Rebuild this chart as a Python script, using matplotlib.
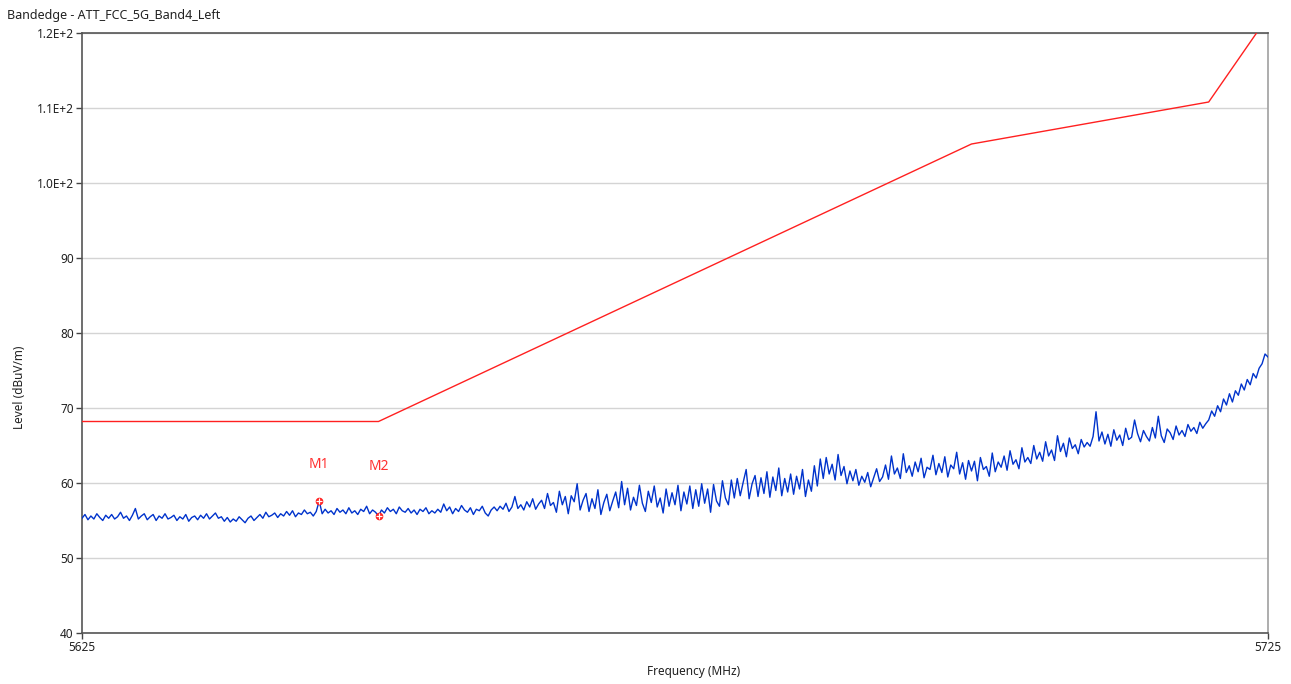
import numpy as np
import matplotlib
matplotlib.use("Agg")
import matplotlib.pyplot as plt
from matplotlib.ticker import FixedLocator, FixedFormatter

# ---------------- data ----------------
title_text = "Bandedge - ATT_FCC_5G_Band4_Left"
x_label = "Frequency (MHz)"
y_label = "Level (dBuV/m)"

f_start = 5625.0
f_step = 0.25

trace_level = [
    55.3, 55.8, 55.1, 55.6, 55.2, 55.9, 55.4, 55.0, 55.7, 55.3,
    55.8, 55.2, 55.5, 56.1, 55.3, 55.6, 55.0, 55.7, 56.6, 55.2,
    55.6, 55.9, 55.1, 55.5, 55.8, 55.0, 55.6, 55.3, 55.9, 55.2,
    55.4, 55.7, 55.0, 55.5, 55.2, 55.8, 54.9, 55.4, 55.6, 55.1,
    55.7, 55.3, 55.9, 55.2, 55.6, 56.0, 55.3, 55.5, 54.9, 55.4,
    54.8, 55.2, 54.9, 55.5, 55.1, 54.7, 55.3, 55.6, 55.0, 55.4,
    55.8, 55.3, 56.1, 55.5, 55.7, 56.0, 55.4, 55.9, 55.6, 56.2,
    55.7, 56.3, 55.5, 56.0, 55.8, 56.4, 55.9, 56.1, 55.6, 56.2,
    57.6, 55.9, 56.5, 56.0, 56.3, 55.8, 56.6, 56.1, 56.4, 55.9,
    56.7, 56.0, 56.3, 55.8, 56.5, 56.2, 56.9, 55.9, 56.4, 56.1,
    55.6, 56.4, 56.0, 56.7, 56.2, 56.5, 55.9, 56.8, 56.3, 56.1,
    56.6, 56.0, 56.4, 55.8, 56.5, 56.2, 56.7, 55.9, 56.3, 56.0,
    56.5, 56.1, 57.2, 56.3, 56.8, 55.9, 56.6, 56.2, 57.0, 56.4,
    56.1, 56.7, 55.8, 56.5, 56.3, 56.9, 56.0, 55.6, 56.4, 56.8,
    56.3, 56.9, 56.5, 57.3, 56.2, 56.8, 58.2, 56.6, 57.1, 56.4,
    57.5, 56.8, 57.9, 56.5, 57.2, 57.7, 56.6, 58.6, 57.0, 57.4,
    56.1, 58.9, 57.1, 58.2, 55.9, 58.3, 57.5, 59.9, 56.4, 57.7,
    58.6, 56.2, 57.9, 56.6, 59.1, 55.8, 57.4, 58.5, 56.3, 57.6,
    58.8, 56.7, 60.2, 57.1, 59.3, 56.4, 58.1, 57.0, 59.7, 57.3,
    56.2, 58.9, 57.4, 59.6, 56.8, 58.0, 56.0, 59.2, 56.9, 58.7,
    57.1, 59.7, 56.3, 58.8, 57.2, 59.6, 56.6, 59.1, 56.9, 59.9,
    57.3, 59.2, 56.1, 59.8, 57.6, 56.9, 60.3, 58.0, 57.1, 60.4,
    58.0, 60.6, 58.3, 60.1, 61.8, 57.9, 59.9, 61.0, 58.2, 60.7,
    58.6, 61.5, 58.1, 60.8, 59.0, 62.0, 58.3, 60.6, 58.8, 61.2,
    58.5, 60.9, 59.2, 61.8, 58.2, 60.4, 58.9, 62.3, 59.6, 63.2,
    60.6, 63.4, 61.2, 62.5, 60.4, 63.8, 61.0, 62.2, 59.9, 61.6,
    60.3, 61.8, 59.7, 60.9, 60.1, 61.4, 59.5, 60.7, 61.9, 60.2,
    60.8, 62.4, 60.5, 63.6, 61.2, 62.0, 60.6, 63.9, 61.4, 62.3,
    60.9, 62.8, 61.5, 63.3, 60.7, 62.1, 61.8, 63.7, 61.1, 62.6,
    61.4, 63.5, 60.8, 62.4, 61.9, 64.1, 61.2, 62.7, 60.5, 63.0,
    61.6, 62.9, 60.3, 63.4, 61.8, 62.2, 60.9, 64.0, 61.5, 62.8,
    62.1, 63.6, 61.7, 64.3, 62.5, 63.1, 61.9, 64.7, 62.8, 63.4,
    62.6, 65.0, 63.2, 64.1, 62.9, 65.5, 63.6, 64.4, 63.0, 66.3,
    64.2, 65.3, 63.5, 66.0, 64.6, 65.1, 63.9, 65.8, 64.8, 65.4,
    64.9, 66.2, 69.5, 65.6, 66.8, 65.2, 66.5, 64.9, 67.1, 65.7,
    66.4, 65.0, 67.3, 65.8, 66.1, 68.4, 66.6, 65.5, 67.0, 66.2,
    65.6, 67.4, 66.0, 68.9, 66.3, 65.4, 67.2, 66.7, 65.8, 67.6,
    66.4, 67.0, 66.2, 67.8, 66.9, 67.4, 66.6, 68.1, 67.3, 67.9,
    68.4, 69.6, 68.9, 70.3, 69.5, 71.2, 70.4, 71.9, 70.8, 72.3,
    71.7, 73.2, 72.4, 73.8, 73.1, 74.6, 74.0, 75.3, 75.9, 77.2,
    76.8,
]

limit_freq = [5625, 5650, 5700, 5720, 5725]
limit_level = [68.2, 68.2, 105.2, 110.8, 122.2]

marker_names = ["M1", "M2"]
marker_freq = [5645.0, 5650.0]
marker_level = [57.6, 55.6]

y_ticks = [40, 50, 60, 70, 80, 90, 100, 110, 120]
y_tick_labels = ["40", "50", "60", "70", "80", "90", "1.0E+2", "1.1E+2", "1.2E+2"]
x_ticks = [5625, 5725]
x_tick_labels = ["5625", "5725"]

# ---------------- plot ----------------
plt.rcParams['font.family'] = ['Noto Sans', 'DejaVu Sans']

W, H = 1291, 684
fig = plt.figure(figsize=(W / 100, H / 100), dpi=100)
ax = fig.add_axes([82 / W, 1 - 633 / H, (1268 - 82) / W, (633 - 33) / H])

trace_freq = f_start + f_step * np.arange(len(trace_level))

ax.plot(trace_freq, trace_level, color="#0033cc", lw=1.0, zorder=3)
ax.plot(limit_freq, limit_level, color="#ff2020", lw=1.0, zorder=4)

ax.plot(marker_freq, marker_level, linestyle="none", marker="o", markersize=4.5,
        markerfacecolor="#ff4040", markeredgecolor="#ff2020", zorder=5)
ax.plot(marker_freq, marker_level, linestyle="none", marker="+", markersize=4,
        color="white", mew=0.8, zorder=6)
label_offsets = [(0, 37), (0, 49)]
for name, fx, ly, off in zip(marker_names, marker_freq, marker_level, label_offsets):
    ax.annotate(name, (fx, ly), xytext=off, textcoords="offset pixels",
                ha="center", va="center", color="#ff3030", fontsize=10)

ax.set_xlim(5625, 5725)
ax.set_ylim(40, 120)
ax.yaxis.set_major_locator(FixedLocator(y_ticks))
ax.yaxis.set_major_formatter(FixedFormatter(y_tick_labels))
ax.xaxis.set_major_locator(FixedLocator(x_ticks))
ax.xaxis.set_major_formatter(FixedFormatter(x_tick_labels))
ax.grid(axis="y", color="#d4d4d4", lw=1.0)
ax.set_axisbelow(True)

for side in ["left", "bottom", "top"]:
    ax.spines[side].set_color("#555555")
    ax.spines[side].set_linewidth(1.2)
ax.spines["right"].set_color("#a0a0a0")
ax.spines["right"].set_linewidth(1.2)

ax.tick_params(axis="both", direction="out", length=4, width=1, color="#444444",
               labelsize=8.5, labelcolor="#222222", pad=2)

fig.text(7 / W, 1 - 15 / H, title_text, ha="left", va="center", fontsize=9, color="#222222")
fig.text(694 / W, 1 - 672 / H, x_label, ha="center", va="center", fontsize=8.5, color="#222222")
fig.text(20 / W, 1 - 387 / H, y_label, ha="center", va="center", rotation=90,
         fontsize=8.5, color="#222222")

fig.savefig("out.png", dpi=100)
